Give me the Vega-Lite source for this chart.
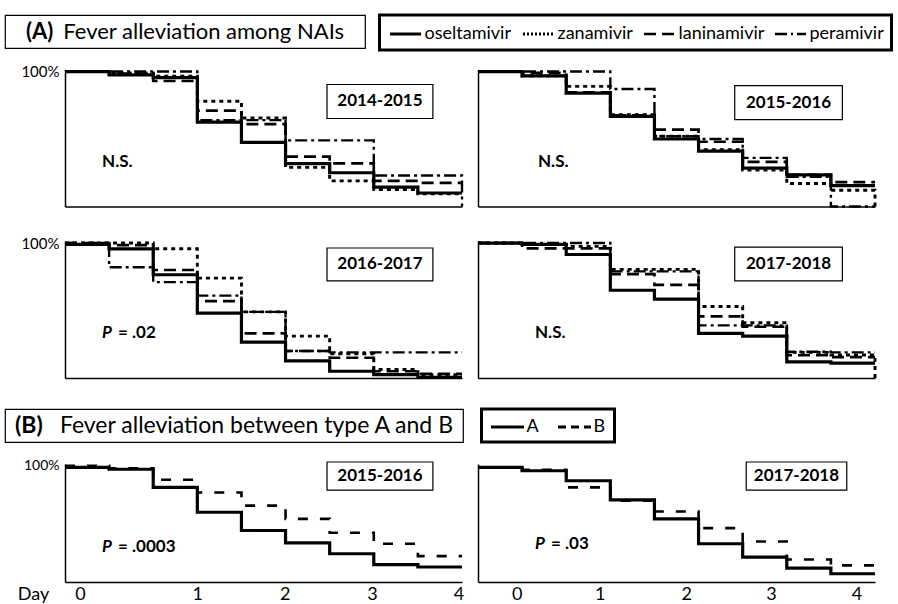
{
  "$schema": "https://vega.github.io/schema/vega-lite/v6.json",
  "background": "white",
  "padding": {"left": 4, "top": 13, "right": 4, "bottom": 2},
  "autosize": {"type": "pad"},
  "config": {
    "font": "Lato",
    "view": {"stroke": null},
    "axis": {"grid": false, "ticks": false, "domainColor": "black", "domainWidth": 1.5, "labelColor": "black", "titleColor": "black", "labelFont": "Lato", "titleFont": "Lato"},
    "text": {"font": "Lato", "color": "black"},
    "line": {"color": "black"}
  },
  "datasets": {
    "info": [
      {"panel": "A1", "season": "2014-2015", "pre": "", "stat": "N.S."},
      {"panel": "A2", "season": "2015-2016", "pre": "", "stat": "N.S."},
      {"panel": "A3", "season": "2016-2017", "pre": "P", "stat": "= .02"},
      {"panel": "A4", "season": "2017-2018", "pre": "", "stat": "N.S."},
      {"panel": "B1", "season": "2015-2016", "pre": "P", "stat": "= .0003"},
      {"panel": "B2", "season": "2017-2018", "pre": "P", "stat": "= .03"}
    ],
    "km": [
      {"panel":"A1","drug":"oseltamivir","day":-0.5,"surv":1},{"panel":"A1","drug":"oseltamivir","day":0,"surv":0.975},{"panel":"A1","drug":"oseltamivir","day":0.5,"surv":0.955},{"panel":"A1","drug":"oseltamivir","day":1,"surv":0.625},{"panel":"A1","drug":"oseltamivir","day":1.5,"surv":0.475},{"panel":"A1","drug":"oseltamivir","day":2,"surv":0.318},{"panel":"A1","drug":"oseltamivir","day":2.5,"surv":0.25},{"panel":"A1","drug":"oseltamivir","day":3,"surv":0.143},{"panel":"A1","drug":"oseltamivir","day":3.5,"surv":0.1},{"panel":"A1","drug":"oseltamivir","day":4,"surv":0.1},
      {"panel":"A1","drug":"zanamivir","day":-0.5,"surv":1},{"panel":"A1","drug":"zanamivir","day":0,"surv":0.99},{"panel":"A1","drug":"zanamivir","day":0.5,"surv":0.965},{"panel":"A1","drug":"zanamivir","day":1,"surv":0.78},{"panel":"A1","drug":"zanamivir","day":1.5,"surv":0.655},{"panel":"A1","drug":"zanamivir","day":2,"surv":0.29},{"panel":"A1","drug":"zanamivir","day":2.5,"surv":0.19},{"panel":"A1","drug":"zanamivir","day":3,"surv":0.125},{"panel":"A1","drug":"zanamivir","day":3.5,"surv":0.095},{"panel":"A1","drug":"zanamivir","day":4,"surv":0.095},
      {"panel":"A1","drug":"laninamivir","day":-0.5,"surv":1},{"panel":"A1","drug":"laninamivir","day":0,"surv":0.985},{"panel":"A1","drug":"laninamivir","day":0.5,"surv":0.93},{"panel":"A1","drug":"laninamivir","day":1,"surv":0.71},{"panel":"A1","drug":"laninamivir","day":1.5,"surv":0.61},{"panel":"A1","drug":"laninamivir","day":2,"surv":0.37},{"panel":"A1","drug":"laninamivir","day":2.5,"surv":0.32},{"panel":"A1","drug":"laninamivir","day":3,"surv":0.19},{"panel":"A1","drug":"laninamivir","day":3.5,"surv":0.175},{"panel":"A1","drug":"laninamivir","day":4,"surv":0.175},
      {"panel":"A1","drug":"peramivir","day":-0.5,"surv":1},{"panel":"A1","drug":"peramivir","day":0,"surv":1},{"panel":"A1","drug":"peramivir","day":0.5,"surv":1},{"panel":"A1","drug":"peramivir","day":1,"surv":0.64},{"panel":"A1","drug":"peramivir","day":1.5,"surv":0.64},{"panel":"A1","drug":"peramivir","day":2,"surv":0.49},{"panel":"A1","drug":"peramivir","day":2.5,"surv":0.49},{"panel":"A1","drug":"peramivir","day":3,"surv":0.23},{"panel":"A1","drug":"peramivir","day":3.5,"surv":0.23},{"panel":"A1","drug":"peramivir","day":4,"surv":0},
      {"panel":"A2","drug":"oseltamivir","day":-0.5,"surv":1},{"panel":"A2","drug":"oseltamivir","day":0,"surv":0.968},{"panel":"A2","drug":"oseltamivir","day":0.5,"surv":0.84},{"panel":"A2","drug":"oseltamivir","day":1,"surv":0.667},{"panel":"A2","drug":"oseltamivir","day":1.5,"surv":0.5},{"panel":"A2","drug":"oseltamivir","day":2,"surv":0.41},{"panel":"A2","drug":"oseltamivir","day":2.5,"surv":0.285},{"panel":"A2","drug":"oseltamivir","day":3,"surv":0.235},{"panel":"A2","drug":"oseltamivir","day":3.5,"surv":0.155},{"panel":"A2","drug":"oseltamivir","day":4,"surv":0.155},
      {"panel":"A2","drug":"zanamivir","day":-0.5,"surv":1},{"panel":"A2","drug":"zanamivir","day":0,"surv":0.968},{"panel":"A2","drug":"zanamivir","day":0.5,"surv":0.89},{"panel":"A2","drug":"zanamivir","day":1,"surv":0.68},{"panel":"A2","drug":"zanamivir","day":1.5,"surv":0.52},{"panel":"A2","drug":"zanamivir","day":2,"surv":0.42},{"panel":"A2","drug":"zanamivir","day":2.5,"surv":0.27},{"panel":"A2","drug":"zanamivir","day":3,"surv":0.17},{"panel":"A2","drug":"zanamivir","day":3.5,"surv":0.12},{"panel":"A2","drug":"zanamivir","day":4,"surv":0},
      {"panel":"A2","drug":"laninamivir","day":-0.5,"surv":1},{"panel":"A2","drug":"laninamivir","day":0,"surv":0.99},{"panel":"A2","drug":"laninamivir","day":0.5,"surv":0.845},{"panel":"A2","drug":"laninamivir","day":1,"surv":0.675},{"panel":"A2","drug":"laninamivir","day":1.5,"surv":0.57},{"panel":"A2","drug":"laninamivir","day":2,"surv":0.48},{"panel":"A2","drug":"laninamivir","day":2.5,"surv":0.33},{"panel":"A2","drug":"laninamivir","day":3,"surv":0.235},{"panel":"A2","drug":"laninamivir","day":3.5,"surv":0.18},{"panel":"A2","drug":"laninamivir","day":4,"surv":0.18},
      {"panel":"A2","drug":"peramivir","day":-0.5,"surv":1},{"panel":"A2","drug":"peramivir","day":0,"surv":1},{"panel":"A2","drug":"peramivir","day":0.5,"surv":1},{"panel":"A2","drug":"peramivir","day":1,"surv":0.87},{"panel":"A2","drug":"peramivir","day":1.5,"surv":0.52},{"panel":"A2","drug":"peramivir","day":2,"surv":0.5},{"panel":"A2","drug":"peramivir","day":2.5,"surv":0.36},{"panel":"A2","drug":"peramivir","day":3,"surv":0.22},{"panel":"A2","drug":"peramivir","day":3.5,"surv":0},{"panel":"A2","drug":"peramivir","day":4,"surv":0},
      {"panel":"A3","drug":"oseltamivir","day":-0.5,"surv":0.99},{"panel":"A3","drug":"oseltamivir","day":0,"surv":0.957},{"panel":"A3","drug":"oseltamivir","day":0.5,"surv":0.765},{"panel":"A3","drug":"oseltamivir","day":1,"surv":0.48},{"panel":"A3","drug":"oseltamivir","day":1.5,"surv":0.266},{"panel":"A3","drug":"oseltamivir","day":2,"surv":0.127},{"panel":"A3","drug":"oseltamivir","day":2.5,"surv":0.05},{"panel":"A3","drug":"oseltamivir","day":3,"surv":0.025},{"panel":"A3","drug":"oseltamivir","day":3.5,"surv":0.005},{"panel":"A3","drug":"oseltamivir","day":4,"surv":0.005},
      {"panel":"A3","drug":"zanamivir","day":-0.5,"surv":1},{"panel":"A3","drug":"zanamivir","day":0,"surv":1},{"panel":"A3","drug":"zanamivir","day":0.5,"surv":0.957},{"panel":"A3","drug":"zanamivir","day":1,"surv":0.74},{"panel":"A3","drug":"zanamivir","day":1.5,"surv":0.49},{"panel":"A3","drug":"zanamivir","day":2,"surv":0.31},{"panel":"A3","drug":"zanamivir","day":2.5,"surv":0.18},{"panel":"A3","drug":"zanamivir","day":3,"surv":0.063},{"panel":"A3","drug":"zanamivir","day":3.5,"surv":0.025},{"panel":"A3","drug":"zanamivir","day":4,"surv":0.025},
      {"panel":"A3","drug":"laninamivir","day":-0.5,"surv":1},{"panel":"A3","drug":"laninamivir","day":0,"surv":0.985},{"panel":"A3","drug":"laninamivir","day":0.5,"surv":0.8},{"panel":"A3","drug":"laninamivir","day":1,"surv":0.57},{"panel":"A3","drug":"laninamivir","day":1.5,"surv":0.33},{"panel":"A3","drug":"laninamivir","day":2,"surv":0.2},{"panel":"A3","drug":"laninamivir","day":2.5,"surv":0.15},{"panel":"A3","drug":"laninamivir","day":3,"surv":0.05},{"panel":"A3","drug":"laninamivir","day":3.5,"surv":0.03},{"panel":"A3","drug":"laninamivir","day":4,"surv":0.03},
      {"panel":"A3","drug":"peramivir","day":-0.5,"surv":1},{"panel":"A3","drug":"peramivir","day":0,"surv":0.82},{"panel":"A3","drug":"peramivir","day":0.5,"surv":0.71},{"panel":"A3","drug":"peramivir","day":1,"surv":0.61},{"panel":"A3","drug":"peramivir","day":1.5,"surv":0.49},{"panel":"A3","drug":"peramivir","day":2,"surv":0.2},{"panel":"A3","drug":"peramivir","day":2.5,"surv":0.19},{"panel":"A3","drug":"peramivir","day":3,"surv":0.19},{"panel":"A3","drug":"peramivir","day":3.5,"surv":0.19},{"panel":"A3","drug":"peramivir","day":4,"surv":0.19},
      {"panel":"A4","drug":"oseltamivir","day":-0.5,"surv":1},{"panel":"A4","drug":"oseltamivir","day":0,"surv":0.99},{"panel":"A4","drug":"oseltamivir","day":0.5,"surv":0.915},{"panel":"A4","drug":"oseltamivir","day":1,"surv":0.65},{"panel":"A4","drug":"oseltamivir","day":1.5,"surv":0.585},{"panel":"A4","drug":"oseltamivir","day":2,"surv":0.33},{"panel":"A4","drug":"oseltamivir","day":2.5,"surv":0.31},{"panel":"A4","drug":"oseltamivir","day":3,"surv":0.12},{"panel":"A4","drug":"oseltamivir","day":3.5,"surv":0.11},{"panel":"A4","drug":"oseltamivir","day":4,"surv":0.11},
      {"panel":"A4","drug":"zanamivir","day":-0.5,"surv":1},{"panel":"A4","drug":"zanamivir","day":0,"surv":0.99},{"panel":"A4","drug":"zanamivir","day":0.5,"surv":0.975},{"panel":"A4","drug":"zanamivir","day":1,"surv":0.805},{"panel":"A4","drug":"zanamivir","day":1.5,"surv":0.805},{"panel":"A4","drug":"zanamivir","day":2,"surv":0.53},{"panel":"A4","drug":"zanamivir","day":2.5,"surv":0.41},{"panel":"A4","drug":"zanamivir","day":3,"surv":0.19},{"panel":"A4","drug":"zanamivir","day":3.5,"surv":0.17},{"panel":"A4","drug":"zanamivir","day":4,"surv":0},
      {"panel":"A4","drug":"laninamivir","day":-0.5,"surv":1},{"panel":"A4","drug":"laninamivir","day":0,"surv":0.96},{"panel":"A4","drug":"laninamivir","day":0.5,"surv":0.96},{"panel":"A4","drug":"laninamivir","day":1,"surv":0.77},{"panel":"A4","drug":"laninamivir","day":1.5,"surv":0.69},{"panel":"A4","drug":"laninamivir","day":2,"surv":0.456},{"panel":"A4","drug":"laninamivir","day":2.5,"surv":0.38},{"panel":"A4","drug":"laninamivir","day":3,"surv":0.17},{"panel":"A4","drug":"laninamivir","day":3.5,"surv":0.155},{"panel":"A4","drug":"laninamivir","day":4,"surv":0.155},
      {"panel":"A4","drug":"peramivir","day":-0.5,"surv":1},{"panel":"A4","drug":"peramivir","day":0,"surv":1},{"panel":"A4","drug":"peramivir","day":0.5,"surv":1},{"panel":"A4","drug":"peramivir","day":1,"surv":0.79},{"panel":"A4","drug":"peramivir","day":1.5,"surv":0.79},{"panel":"A4","drug":"peramivir","day":2,"surv":0.39},{"panel":"A4","drug":"peramivir","day":2.5,"surv":0.39},{"panel":"A4","drug":"peramivir","day":3,"surv":0.195},{"panel":"A4","drug":"peramivir","day":3.5,"surv":0.19},{"panel":"A4","drug":"peramivir","day":4,"surv":0.19},
      {"panel":"B1","drug":"A","day":-0.5,"surv":0.986},{"panel":"B1","drug":"A","day":0,"surv":0.97},{"panel":"B1","drug":"A","day":0.5,"surv":0.814},{"panel":"B1","drug":"A","day":1,"surv":0.6},{"panel":"B1","drug":"A","day":1.5,"surv":0.443},{"panel":"B1","drug":"A","day":2,"surv":0.337},{"panel":"B1","drug":"A","day":2.5,"surv":0.243},{"panel":"B1","drug":"A","day":3,"surv":0.149},{"panel":"B1","drug":"A","day":3.5,"surv":0.129},{"panel":"B1","drug":"A","day":4,"surv":0.129},
      {"panel":"B1","drug":"B","day":-0.5,"surv":1},{"panel":"B1","drug":"B","day":0,"surv":0.977},{"panel":"B1","drug":"B","day":0.5,"surv":0.88},{"panel":"B1","drug":"B","day":1,"surv":0.77},{"panel":"B1","drug":"B","day":1.5,"surv":0.657},{"panel":"B1","drug":"B","day":2,"surv":0.543},{"panel":"B1","drug":"B","day":2.5,"surv":0.423},{"panel":"B1","drug":"B","day":3,"surv":0.329},{"panel":"B1","drug":"B","day":3.5,"surv":0.223},{"panel":"B1","drug":"B","day":4,"surv":0.223},
      {"panel":"B2","drug":"A","day":-0.5,"surv":0.986},{"panel":"B2","drug":"A","day":0,"surv":0.957},{"panel":"B2","drug":"A","day":0.5,"surv":0.871},{"panel":"B2","drug":"A","day":1,"surv":0.706},{"panel":"B2","drug":"A","day":1.5,"surv":0.543},{"panel":"B2","drug":"A","day":2,"surv":0.329},{"panel":"B2","drug":"A","day":2.5,"surv":0.214},{"panel":"B2","drug":"A","day":3,"surv":0.12},{"panel":"B2","drug":"A","day":3.5,"surv":0.071},{"panel":"B2","drug":"A","day":4,"surv":0.071},
      {"panel":"B2","drug":"B","day":-0.5,"surv":0.986},{"panel":"B2","drug":"B","day":0,"surv":0.966},{"panel":"B2","drug":"B","day":0.5,"surv":0.814},{"panel":"B2","drug":"B","day":1,"surv":0.7},{"panel":"B2","drug":"B","day":1.5,"surv":0.606},{"panel":"B2","drug":"B","day":2,"surv":0.463},{"panel":"B2","drug":"B","day":2.5,"surv":0.349},{"panel":"B2","drug":"B","day":3,"surv":0.194},{"panel":"B2","drug":"B","day":3.5,"surv":0.143},{"panel":"B2","drug":"B","day":4,"surv":0.143}
    ]
  },
  "spacing": 23,
  "resolve": {"scale": {"strokeDash": "independent", "strokeWidth": "independent"}},
  "vconcat": [
    {
      "spacing": 12.5,
      "resolve": {"scale": {"strokeDash": "independent", "strokeWidth": "independent"}},
      "vconcat": [
        {
          "bounds": "flush",
          "spacing": 14.5,
          "resolve": {"scale": {"strokeDash": "independent", "strokeWidth": "independent"}},
          "hconcat": [
            {
              "width": 360, "height": 33,
              "view": {"stroke": "black", "strokeWidth": 1.2},
              "data": {"values": [{"tag": "(A)", "title": "Fever alleviation among NAIs"}]},
              "layer": [
                {"mark": {"type": "text", "fontSize": 22, "fontWeight": "bold", "align": "left", "dx": -159}, "encoding": {"text": {"field": "tag"}}},
                {"mark": {"type": "text", "fontSize": 22, "align": "right", "dx": 159}, "encoding": {"text": {"field": "title"}}}
              ]
            },
            {
              "width": 512, "height": 35,
              "view": {"stroke": "black", "strokeWidth": 3},
              "data": {"values": [{"drug": "oseltamivir"}, {"drug": "zanamivir"}, {"drug": "laninamivir"}, {"drug": "peramivir"}]},
              "mark": {"type": "line", "color": "black"},
              "encoding": {
                "strokeDash": {"field": "drug", "type": "nominal", "scale": {"domain": ["oseltamivir", "zanamivir", "laninamivir", "peramivir"], "range": [[1, 0], [2, 2], [12, 6], [12, 4, 2, 4]]},
                  "legend": {"orient": "none", "legendX": 9, "legendY": 2, "direction": "horizontal", "title": null, "symbolType": "stroke", "symbolSize": 961, "symbolStrokeColor": "black", "labelFont": "Lato", "labelFontSize": 18, "labelColor": "black", "labelOffset": 2, "columnPadding": 5, "padding": 0}},
                "strokeWidth": {"field": "drug", "type": "nominal", "scale": {"domain": ["oseltamivir", "zanamivir", "laninamivir", "peramivir"], "range": [3, 2.5, 2.5, 2.5]},
                  "legend": {"orient": "none", "legendX": 9, "legendY": 2, "direction": "horizontal", "title": null, "symbolType": "stroke", "symbolSize": 961, "symbolStrokeColor": "black", "labelFont": "Lato", "labelFontSize": 18, "labelColor": "black", "labelOffset": 2, "columnPadding": 5, "padding": 0}}
              }
            }
          ]
        },
        {
          "bounds": "flush",
          "spacing": 16,
          "resolve": {"scale": {"strokeDash": "independent", "strokeWidth": "independent"}},
          "hconcat": [
            {"width": 44, "height": 10, "data": {"values": [{}]}, "mark": {"type": "text", "text": ""}},
            {
              "width": 397, "height": 137,
              "layer": [
                {"data": {"name": "km"}, "transform": [{"filter": "datum.panel === 'A1'"}],
                  "mark": {"type": "line", "interpolate": "step-after", "color": "black"},
                  "encoding": {
                    "x": {"field": "day", "type": "quantitative", "scale": {"domain": [-0.5, 4], "nice": false, "zero": false}, "axis": {"labels": false, "title": null}},
                    "y": {"field": "surv", "type": "quantitative", "scale": {"domain": [0, 1.015], "nice": false}, "axis": {"values": [1], "format": ".0%", "labelFontSize": 15, "labelPadding": 6, "title": null}},
                    "strokeDash": {"field": "drug", "type": "nominal", "scale": {"domain": ["oseltamivir", "zanamivir", "laninamivir", "peramivir"], "range": [[1, 0], [4, 4], [12, 6], [12, 4, 3, 4]]}, "legend": null},
                    "strokeWidth": {"field": "drug", "type": "nominal", "scale": {"domain": ["oseltamivir", "zanamivir", "laninamivir", "peramivir"], "range": [3.2, 2.4, 2.4, 2.4]}, "legend": null}
                  }},
                {"data": {"name": "info"}, "transform": [{"filter": "datum.panel === 'A1'"}],
                  "mark": {"type": "rect", "fill": "white", "stroke": "black", "strokeWidth": 1.2},
                  "encoding": {"x": {"datum": 2.47}, "x2": {"datum": 3.67}, "y": {"datum": 0.904}, "y2": {"datum": 0.652}}},
                {"data": {"name": "info"}, "transform": [{"filter": "datum.panel === 'A1'"}],
                  "mark": {"type": "text", "fontWeight": "bold", "fontSize": 17},
                  "encoding": {"x": {"datum": 3.07}, "y": {"datum": 0.778}, "text": {"field": "season"}}},
                {"data": {"name": "info"}, "transform": [{"filter": "datum.panel === 'A1'"}],
                  "mark": {"type": "text", "fontWeight": "bold", "fontSize": 17, "align": "left"},
                  "encoding": {"x": {"datum": -0.08}, "y": {"datum": 0.333}, "text": {"field": "stat"}}}
              ]
            },
            {
              "width": 397, "height": 137,
              "layer": [
                {"data": {"name": "km"}, "transform": [{"filter": "datum.panel === 'A2'"}],
                  "mark": {"type": "line", "interpolate": "step-after", "color": "black"},
                  "encoding": {
                    "x": {"field": "day", "type": "quantitative", "scale": {"domain": [-0.5, 4], "nice": false, "zero": false}, "axis": {"labels": false, "title": null}},
                    "y": {"field": "surv", "type": "quantitative", "scale": {"domain": [0, 1.015], "nice": false}, "axis": {"labels": false, "title": null}},
                    "strokeDash": {"field": "drug", "type": "nominal", "scale": {"domain": ["oseltamivir", "zanamivir", "laninamivir", "peramivir"], "range": [[1, 0], [4, 4], [12, 6], [12, 4, 3, 4]]}, "legend": null},
                    "strokeWidth": {"field": "drug", "type": "nominal", "scale": {"domain": ["oseltamivir", "zanamivir", "laninamivir", "peramivir"], "range": [3.2, 2.4, 2.4, 2.4]}, "legend": null}
                  }},
                {"data": {"name": "info"}, "transform": [{"filter": "datum.panel === 'A2'"}],
                  "mark": {"type": "rect", "fill": "white", "stroke": "black", "strokeWidth": 1.2},
                  "encoding": {"x": {"datum": 2.41}, "x2": {"datum": 3.63}, "y": {"datum": 0.896}, "y2": {"datum": 0.644}}},
                {"data": {"name": "info"}, "transform": [{"filter": "datum.panel === 'A2'"}],
                  "mark": {"type": "text", "fontWeight": "bold", "fontSize": 17},
                  "encoding": {"x": {"datum": 3.02}, "y": {"datum": 0.77}, "text": {"field": "season"}}},
                {"data": {"name": "info"}, "transform": [{"filter": "datum.panel === 'A2'"}],
                  "mark": {"type": "text", "fontWeight": "bold", "fontSize": 17, "align": "left"},
                  "encoding": {"x": {"datum": 0.18}, "y": {"datum": 0.333}, "text": {"field": "stat"}}}
              ]
            }
          ]
        }
      ]
    },
    {
      "spacing": 23,
      "resolve": {"scale": {"strokeDash": "independent", "strokeWidth": "independent"}},
      "vconcat": [
        {
          "bounds": "flush",
          "spacing": 16,
          "resolve": {"scale": {"strokeDash": "independent", "strokeWidth": "independent"}},
          "hconcat": [
            {"width": 44, "height": 10, "data": {"values": [{}]}, "mark": {"type": "text", "text": ""}},
            {
              "width": 397, "height": 137,
              "layer": [
                {"data": {"name": "km"}, "transform": [{"filter": "datum.panel === 'A3'"}],
                  "mark": {"type": "line", "interpolate": "step-after", "color": "black"},
                  "encoding": {
                    "x": {"field": "day", "type": "quantitative", "scale": {"domain": [-0.5, 4], "nice": false, "zero": false}, "axis": {"labels": false, "title": null}},
                    "y": {"field": "surv", "type": "quantitative", "scale": {"domain": [0, 1.015], "nice": false}, "axis": {"values": [1], "format": ".0%", "labelFontSize": 15, "labelPadding": 6, "title": null}},
                    "strokeDash": {"field": "drug", "type": "nominal", "scale": {"domain": ["oseltamivir", "zanamivir", "laninamivir", "peramivir"], "range": [[1, 0], [4, 4], [12, 6], [12, 4, 3, 4]]}, "legend": null},
                    "strokeWidth": {"field": "drug", "type": "nominal", "scale": {"domain": ["oseltamivir", "zanamivir", "laninamivir", "peramivir"], "range": [3.2, 2.4, 2.4, 2.4]}, "legend": null}
                  }},
                {"data": {"name": "info"}, "transform": [{"filter": "datum.panel === 'A3'"}],
                  "mark": {"type": "rect", "fill": "white", "stroke": "black", "strokeWidth": 1.2},
                  "encoding": {"x": {"datum": 2.47}, "x2": {"datum": 3.67}, "y": {"datum": 0.963}, "y2": {"datum": 0.719}}},
                {"data": {"name": "info"}, "transform": [{"filter": "datum.panel === 'A3'"}],
                  "mark": {"type": "text", "fontWeight": "bold", "fontSize": 17},
                  "encoding": {"x": {"datum": 3.07}, "y": {"datum": 0.841}, "text": {"field": "season"}}},
                {"data": {"name": "info"}, "transform": [{"filter": "datum.panel === 'A3'"}],
                  "mark": {"type": "text", "fontWeight": "bold", "fontStyle": "italic", "fontSize": 17, "align": "left"},
                  "encoding": {"x": {"datum": -0.08}, "y": {"datum": 0.333}, "text": {"field": "pre"}}},
                {"data": {"name": "info"}, "transform": [{"filter": "datum.panel === 'A3'"}],
                  "mark": {"type": "text", "fontWeight": "bold", "fontSize": 17, "align": "left", "dx": 16},
                  "encoding": {"x": {"datum": -0.08}, "y": {"datum": 0.333}, "text": {"field": "stat"}}}
              ]
            },
            {
              "width": 397, "height": 137,
              "layer": [
                {"data": {"name": "km"}, "transform": [{"filter": "datum.panel === 'A4'"}],
                  "mark": {"type": "line", "interpolate": "step-after", "color": "black"},
                  "encoding": {
                    "x": {"field": "day", "type": "quantitative", "scale": {"domain": [-0.5, 4], "nice": false, "zero": false}, "axis": {"labels": false, "title": null}},
                    "y": {"field": "surv", "type": "quantitative", "scale": {"domain": [0, 1.015], "nice": false}, "axis": {"labels": false, "title": null}},
                    "strokeDash": {"field": "drug", "type": "nominal", "scale": {"domain": ["oseltamivir", "zanamivir", "laninamivir", "peramivir"], "range": [[1, 0], [4, 4], [12, 6], [12, 4, 3, 4]]}, "legend": null},
                    "strokeWidth": {"field": "drug", "type": "nominal", "scale": {"domain": ["oseltamivir", "zanamivir", "laninamivir", "peramivir"], "range": [3.2, 2.4, 2.4, 2.4]}, "legend": null}
                  }},
                {"data": {"name": "info"}, "transform": [{"filter": "datum.panel === 'A4'"}],
                  "mark": {"type": "rect", "fill": "white", "stroke": "black", "strokeWidth": 1.2},
                  "encoding": {"x": {"datum": 2.41}, "x2": {"datum": 3.63}, "y": {"datum": 0.97}, "y2": {"datum": 0.72}}},
                {"data": {"name": "info"}, "transform": [{"filter": "datum.panel === 'A4'"}],
                  "mark": {"type": "text", "fontWeight": "bold", "fontSize": 17},
                  "encoding": {"x": {"datum": 3.02}, "y": {"datum": 0.845}, "text": {"field": "season"}}},
                {"data": {"name": "info"}, "transform": [{"filter": "datum.panel === 'A4'"}],
                  "mark": {"type": "text", "fontWeight": "bold", "fontSize": 17, "align": "left"},
                  "encoding": {"x": {"datum": 0.146}, "y": {"datum": 0.333}, "text": {"field": "stat"}}}
              ]
            }
          ]
        },
        {
          "spacing": 14,
          "resolve": {"scale": {"strokeDash": "independent", "strokeWidth": "independent"}},
          "vconcat": [
            {
              "bounds": "flush",
              "spacing": 18.5,
              "resolve": {"scale": {"strokeDash": "independent", "strokeWidth": "independent"}},
              "hconcat": [
                {
                  "width": 458, "height": 33,
                  "view": {"stroke": "black", "strokeWidth": 1.2},
                  "data": {"values": [{"tag": "(B)", "title": "Fever alleviation between type A and B"}]},
                  "layer": [
                    {"mark": {"type": "text", "fontSize": 23, "fontWeight": "bold", "align": "left", "dx": -219}, "encoding": {"text": {"field": "tag"}}},
                    {"mark": {"type": "text", "fontSize": 23, "align": "right", "dx": 219}, "encoding": {"text": {"field": "title"}}}
                  ]
                },
                {
                  "width": 133, "height": 33,
                  "view": {"stroke": "black", "strokeWidth": 3},
                  "data": {"values": [{"drug": "A"}, {"drug": "B"}]},
                  "mark": {"type": "line", "color": "black"},
                  "encoding": {
                    "strokeDash": {"field": "drug", "type": "nominal", "scale": {"domain": ["A", "B"], "range": [[1, 0], [8, 5]]},
                      "legend": {"orient": "none", "legendX": 8, "legendY": 0, "direction": "horizontal", "title": null, "symbolType": "stroke", "symbolSize": 1089, "symbolStrokeColor": "black", "labelFont": "Lato", "labelFontSize": 18, "labelColor": "black", "labelOffset": 1, "columnPadding": 12, "padding": 0}},
                    "strokeWidth": {"field": "drug", "type": "nominal", "scale": {"domain": ["A", "B"], "range": [3, 2.8]},
                      "legend": {"orient": "none", "legendX": 8, "legendY": 0, "direction": "horizontal", "title": null, "symbolType": "stroke", "symbolSize": 1089, "symbolStrokeColor": "black", "labelFont": "Lato", "labelFontSize": 18, "labelColor": "black", "labelOffset": 1, "columnPadding": 12, "padding": 0}}
                  }
                }
              ]
            },
            {
              "bounds": "flush",
              "spacing": 16,
              "resolve": {"scale": {"strokeDash": "independent", "strokeWidth": "independent"}},
              "hconcat": [
                {"width": 44, "height": 10, "data": {"values": [{}]}, "mark": {"type": "text", "text": ""}},
                {
                  "width": 397, "height": 118,
                  "layer": [
                    {"data": {"name": "km"}, "transform": [{"filter": "datum.panel === 'B1'"}],
                      "mark": {"type": "line", "interpolate": "step-after", "color": "black"},
                      "encoding": {
                        "x": {"field": "day", "type": "quantitative", "scale": {"domain": [-0.5, 4], "nice": false, "zero": false},
                          "axis": {"values": [-0.33, 1, 1.99, 2.98, 3.96], "labelExpr": "datum.value < 0.4 ? '0' : datum.value < 1.4 ? '1' : datum.value < 2.4 ? '2' : datum.value < 3.4 ? '3' : '4'", "labelFontSize": 18, "labelPadding": 3, "labelFlush": false, "labelOverlap": false, "title": "Day", "titleFontSize": 18, "titleFontWeight": "normal", "titleX": -32, "titleY": 3, "titleBaseline": "top", "titleAlign": "center"}},
                        "y": {"field": "surv", "type": "quantitative", "scale": {"domain": [0, 1.015], "nice": false}, "axis": {"values": [1], "format": ".0%", "labelFontSize": 14, "labelPadding": 6, "title": null}},
                        "strokeDash": {"field": "drug", "type": "nominal", "scale": {"domain": ["A", "B"], "range": [[1, 0], [10, 12]]}, "legend": null},
                        "strokeWidth": {"field": "drug", "type": "nominal", "scale": {"domain": ["A", "B"], "range": [3.2, 2.6]}, "legend": null}
                      }},
                    {"data": {"name": "info"}, "transform": [{"filter": "datum.panel === 'B1'"}],
                      "mark": {"type": "rect", "fill": "white", "stroke": "black", "strokeWidth": 1.2},
                      "encoding": {"x": {"datum": 2.47}, "x2": {"datum": 3.67}, "y": {"datum": 1.032}, "y2": {"datum": 0.791}}},
                    {"data": {"name": "info"}, "transform": [{"filter": "datum.panel === 'B1'"}],
                      "mark": {"type": "text", "fontWeight": "bold", "fontSize": 17},
                      "encoding": {"x": {"datum": 3.07}, "y": {"datum": 0.91}, "text": {"field": "season"}}},
                    {"data": {"name": "info"}, "transform": [{"filter": "datum.panel === 'B1'"}],
                      "mark": {"type": "text", "fontWeight": "bold", "fontStyle": "italic", "fontSize": 17, "align": "left"},
                      "encoding": {"x": {"datum": -0.08}, "y": {"datum": 0.3}, "text": {"field": "pre"}}},
                    {"data": {"name": "info"}, "transform": [{"filter": "datum.panel === 'B1'"}],
                      "mark": {"type": "text", "fontWeight": "bold", "fontSize": 17, "align": "left", "dx": 16},
                      "encoding": {"x": {"datum": -0.08}, "y": {"datum": 0.3}, "text": {"field": "stat"}}}
                  ]
                },
                {
                  "width": 397, "height": 118,
                  "layer": [
                    {"data": {"name": "km"}, "transform": [{"filter": "datum.panel === 'B2'"}],
                      "mark": {"type": "line", "interpolate": "step-after", "color": "black"},
                      "encoding": {
                        "x": {"field": "day", "type": "quantitative", "scale": {"domain": [-0.5, 4], "nice": false, "zero": false},
                          "axis": {"values": [-0.06, 0.88, 1.86, 2.82, 3.79], "labelExpr": "datum.value < 0.4 ? '0' : datum.value < 1.4 ? '1' : datum.value < 2.4 ? '2' : datum.value < 3.4 ? '3' : '4'", "labelFontSize": 18, "labelPadding": 3, "labelFlush": false, "labelOverlap": false, "title": null}},
                        "y": {"field": "surv", "type": "quantitative", "scale": {"domain": [0, 1.015], "nice": false}, "axis": {"labels": false, "title": null}},
                        "strokeDash": {"field": "drug", "type": "nominal", "scale": {"domain": ["A", "B"], "range": [[1, 0], [10, 12]]}, "legend": null},
                        "strokeWidth": {"field": "drug", "type": "nominal", "scale": {"domain": ["A", "B"], "range": [3.2, 2.6]}, "legend": null}
                      }},
                    {"data": {"name": "info"}, "transform": [{"filter": "datum.panel === 'B2'"}],
                      "mark": {"type": "rect", "fill": "white", "stroke": "black", "strokeWidth": 1.2},
                      "encoding": {"x": {"datum": 2.54}, "x2": {"datum": 3.68}, "y": {"datum": 1.032}, "y2": {"datum": 0.791}}},
                    {"data": {"name": "info"}, "transform": [{"filter": "datum.panel === 'B2'"}],
                      "mark": {"type": "text", "fontWeight": "bold", "fontSize": 17},
                      "encoding": {"x": {"datum": 3.11}, "y": {"datum": 0.91}, "text": {"field": "season"}}},
                    {"data": {"name": "info"}, "transform": [{"filter": "datum.panel === 'B2'"}],
                      "mark": {"type": "text", "fontWeight": "bold", "fontStyle": "italic", "fontSize": 17, "align": "left"},
                      "encoding": {"x": {"datum": 0.146}, "y": {"datum": 0.327}, "text": {"field": "pre"}}},
                    {"data": {"name": "info"}, "transform": [{"filter": "datum.panel === 'B2'"}],
                      "mark": {"type": "text", "fontWeight": "bold", "fontSize": 17, "align": "left", "dx": 16},
                      "encoding": {"x": {"datum": 0.146}, "y": {"datum": 0.327}, "text": {"field": "stat"}}}
                  ]
                }
              ]
            }
          ]
        }
      ]
    }
  ]
}
